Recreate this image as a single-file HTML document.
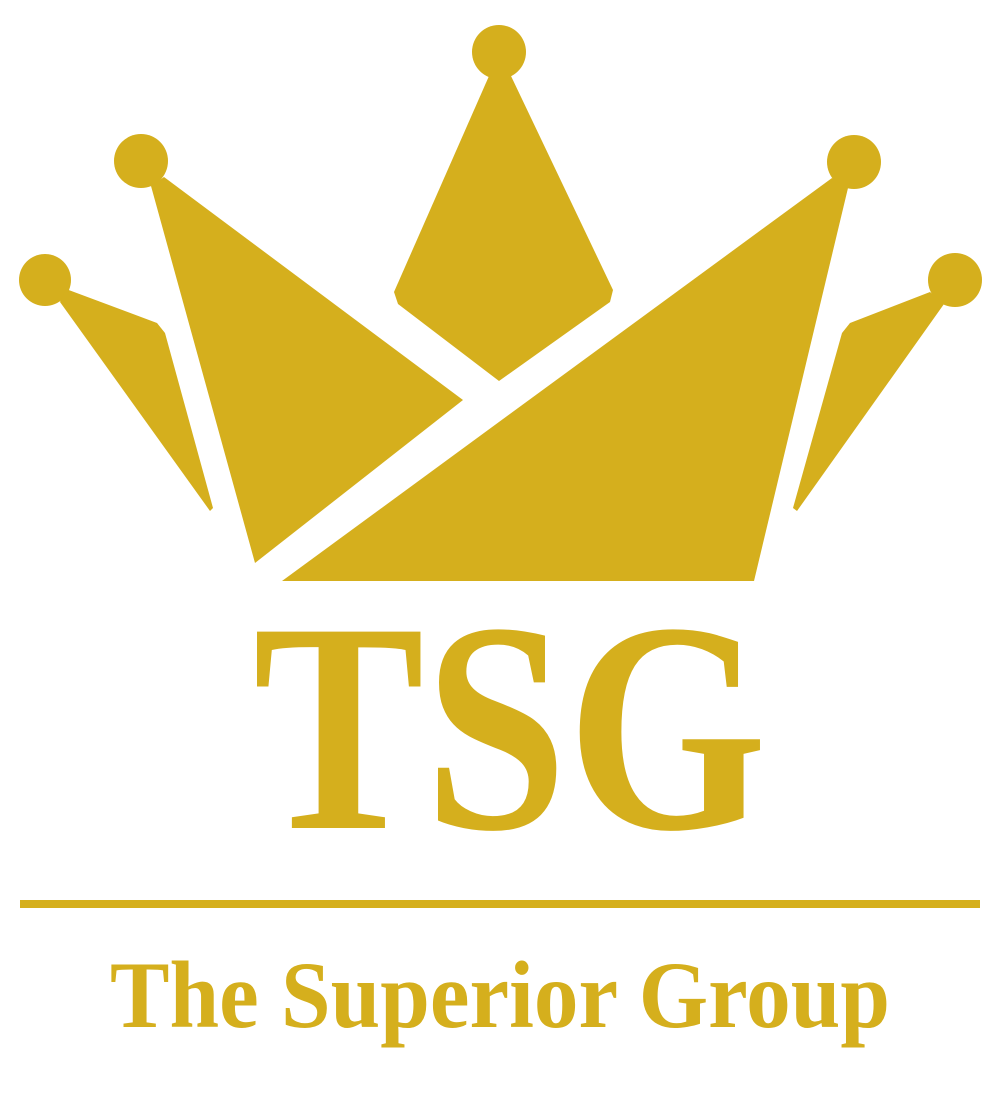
<!DOCTYPE html>
<html><head><meta charset="utf-8"><style>
html,body{margin:0;padding:0;background:#fff;}
svg{display:block;}
</style></head><body>
<svg width="1000" height="1100" viewBox="0 0 1000 1100">
<g fill="#D5AF1D">
  <circle cx="45" cy="280" r="26"/>
  <polygon points="66,289 157,323 165,333 213,508 210,511 60,302"/>
  <circle cx="141" cy="161" r="27"/>
  <polygon points="151,186 164,177 463,400 255,563"/>
  <circle cx="499" cy="52" r="27"/>
  <polygon points="489,76 511,76 613,290 610,302 499,381 398,304 394,292"/>
  <circle cx="854" cy="162" r="27"/>
  <polygon points="832,178 848,188 754,581 282,581"/>
  <circle cx="955" cy="280" r="27"/>
  <polygon points="930,292 944,304 797,511 793,508 842,333 850,323"/>
</g>
<text x="253" y="828" font-family="'Liberation Serif',serif" font-weight="bold" font-size="300" fill="#D5AF1D" textLength="514" lengthAdjust="spacingAndGlyphs">TSG</text>
<rect x="20" y="900" width="960" height="8" fill="#D5AF1D"/>
<text x="110" y="1027" font-family="'Liberation Serif',serif" font-weight="bold" font-size="95" fill="#D5AF1D" textLength="780" lengthAdjust="spacingAndGlyphs">The Superior Group</text>
</svg>
</body></html>
